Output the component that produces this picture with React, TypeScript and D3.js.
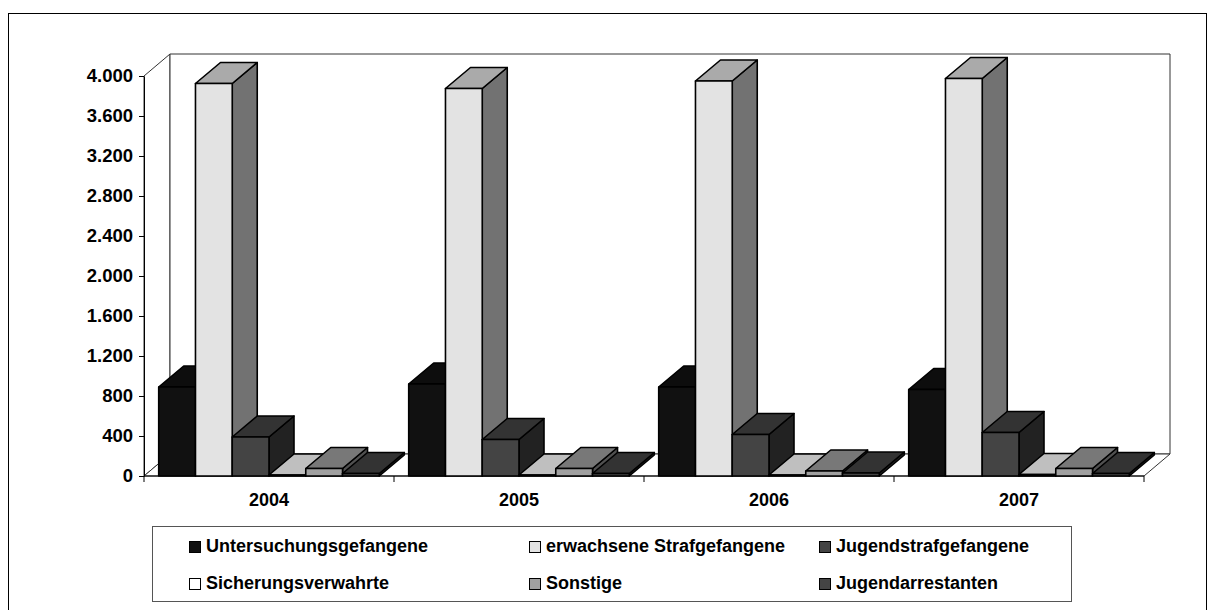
import React, { useRef, useEffect } from "react";
import * as d3 from "d3";

// categories and series
const years = ["2004", "2005", "2006", "2007"];
const seriesNames = [
  "Untersuchungsgefangene",
  "erwachsene Strafgefangene",
  "Jugendstrafgefangene",
  "Sicherungsverwahrte",
  "Sonstige",
  "Jugendarrestanten",
];

// values, one per year
const untersuchungsgefangene = [890, 920, 890, 865];
const erwachseneStrafgefangene = [3925, 3875, 3950, 3975];
const jugendstrafgefangene = [390, 365, 415, 435];
const sicherungsverwahrte = [10, 10, 10, 15];
const sonstige = [75, 75, 50, 75];
const jugendarrestanten = [25, 25, 30, 25];

const seriesColors = ["#111111", "#e3e3e3", "#444444", "#ffffff", "#a0a0a0", "#444444"];
const yTicks = [0, 400, 800, 1200, 1600, 2000, 2400, 2800, 3200, 3600, 4000];

const FONT = "'Liberation Sans', Arial, sans-serif";

const shade = (c: string, k: number) => {
  const r = d3.rgb(c);
  return d3.rgb(r.r * k, r.g * k, r.b * k).formatHex();
};

const App = () => {
  const ref = useRef<SVGSVGElement>(null);

  useEffect(() => {
    const width = 1215;
    const height = 610;
    const left = 144;
    const right = 1144;
    const top = 76;
    const bottom = 476;
    // 3d depth of the walls and of the bars
    const dX = 26;
    const dY = -22;
    const bX = 25;
    const bY = -21;

    const values = [
      untersuchungsgefangene,
      erwachseneStrafgefangene,
      jugendstrafgefangene,
      sicherungsverwahrte,
      sonstige,
      jugendarrestanten,
    ];

    const svg = d3.select(ref.current).attr("width", width).attr("height", height);
    svg.selectAll("*").remove();

    // outer frame (bottom edge runs off the picture)
    svg.append("rect")
      .attr("x", 8.5).attr("y", 13.5)
      .attr("width", 1198).attr("height", 610)
      .attr("fill", "white").attr("stroke", "black");

    const x = d3.scaleBand().domain(years).range([left, right]);
    const inner = d3.scaleBand().domain(seriesNames).range([0, x.bandwidth()]).paddingOuter(0.4);
    const y = d3.scaleLinear().domain([0, 4000]).range([bottom, top]);

    const poly = (pts: number[][]) => pts.map((p) => p.join(",")).join(" ");

    // walls and floor
    const walls = svg.append("g").attr("fill", "white").attr("stroke", "#333").attr("stroke-width", 1);
    walls.append("polygon").attr("points", poly([[left, top], [left + dX, top + dY], [left + dX, bottom + dY], [left, bottom]]));
    walls.append("polygon").attr("points", poly([[left + dX, top + dY], [right + dX, top + dY], [right + dX, bottom + dY], [left + dX, bottom + dY]]));
    walls.append("polygon").attr("points", poly([[left, bottom], [left + dX, bottom + dY], [right + dX, bottom + dY], [right, bottom]]));

    // y axis
    const fmt = d3.formatLocale({ decimal: ",", thousands: ".", grouping: [3], currency: ["", "€"] }).format(",");
    const yAxis = svg.append("g")
      .attr("transform", `translate(${left},0)`)
      .call(d3.axisLeft(y).tickValues(yTicks).tickFormat((d) => fmt(d as number)).tickSize(5).tickSizeOuter(0).tickPadding(6));
    yAxis.selectAll("text")
      .attr("font-family", FONT).attr("font-weight", "bold").attr("font-size", 18.5).attr("fill", "black");
    yAxis.selectAll("line,path").attr("stroke", "black");

    // x axis: line, ticks at category borders, labels at centres
    const xAxis = svg.append("g");
    xAxis.append("line")
      .attr("x1", left).attr("x2", right).attr("y1", bottom).attr("y2", bottom)
      .attr("stroke", "black");
    xAxis.selectAll("line.tick")
      .data([...years.map((d) => x(d)!), right])
      .enter()
      .append("line")
        .attr("class", "tick")
        .attr("x1", (d) => d).attr("x2", (d) => d)
        .attr("y1", bottom).attr("y2", bottom + 6)
        .attr("stroke", "black");
    xAxis.selectAll("text")
      .data(years)
      .enter()
      .append("text")
        .attr("x", (d) => x(d)! + x.bandwidth() / 2)
        .attr("y", bottom + 30)
        .attr("text-anchor", "middle")
        .attr("font-family", FONT).attr("font-weight", "bold").attr("font-size", 18)
        .text((d) => d);

    // 3d bars, drawn left to right so the next front face hides the side
    const bars = svg.append("g").attr("stroke", "black").attr("stroke-width", 1.6).attr("stroke-linejoin", "round");
    years.forEach((year, j) => {
      seriesNames.forEach((name, i) => {
        const v = values[i][j];
        const x0 = x(year)! + inner(name)!;
        const w = inner.bandwidth();
        const y0 = y(v);
        const yb = y(0);
        const c = seriesColors[i];
        bars.append("polygon")
          .attr("fill", shade(c, 0.5))
          .attr("points", poly([[x0 + w, y0], [x0 + w + bX, y0 + bY], [x0 + w + bX, yb + bY], [x0 + w, yb]]));
        bars.append("polygon")
          .attr("fill", shade(c, 0.75))
          .attr("points", poly([[x0, y0], [x0 + bX, y0 + bY], [x0 + w + bX, y0 + bY], [x0 + w, y0]]));
        bars.append("rect")
          .attr("fill", c)
          .attr("x", x0).attr("y", y0)
          .attr("width", w).attr("height", yb - y0);
      });
    });

    // legend
    svg.append("rect")
      .attr("x", 152.5).attr("y", 526.5)
      .attr("width", 919).attr("height", 75)
      .attr("fill", "white").attr("stroke", "#555");
    const colX = [189, 529, 819];
    const rowY = [541, 578];
    const legend = svg.selectAll("g.legend")
      .data(seriesNames)
      .enter()
      .append("g")
        .attr("class", "legend")
        .attr("transform", (d, i) => `translate(${colX[i % 3]},${rowY[Math.floor(i / 3)]})`);
    legend.append("rect")
      .attr("x", 0.5).attr("y", 0.5)
      .attr("width", 11).attr("height", 11)
      .attr("fill", (d, i) => seriesColors[i])
      .attr("stroke", "black");
    legend.append("text")
      .attr("x", 17).attr("y", 11)
      .attr("font-family", FONT).attr("font-weight", "bold").attr("font-size", 18)
      .text((d) => d);
  }, []);

  return <svg ref={ref} width={1215} height={610} style={{ position: "absolute", left: 0, top: 0 }} />;
};

export default App;
